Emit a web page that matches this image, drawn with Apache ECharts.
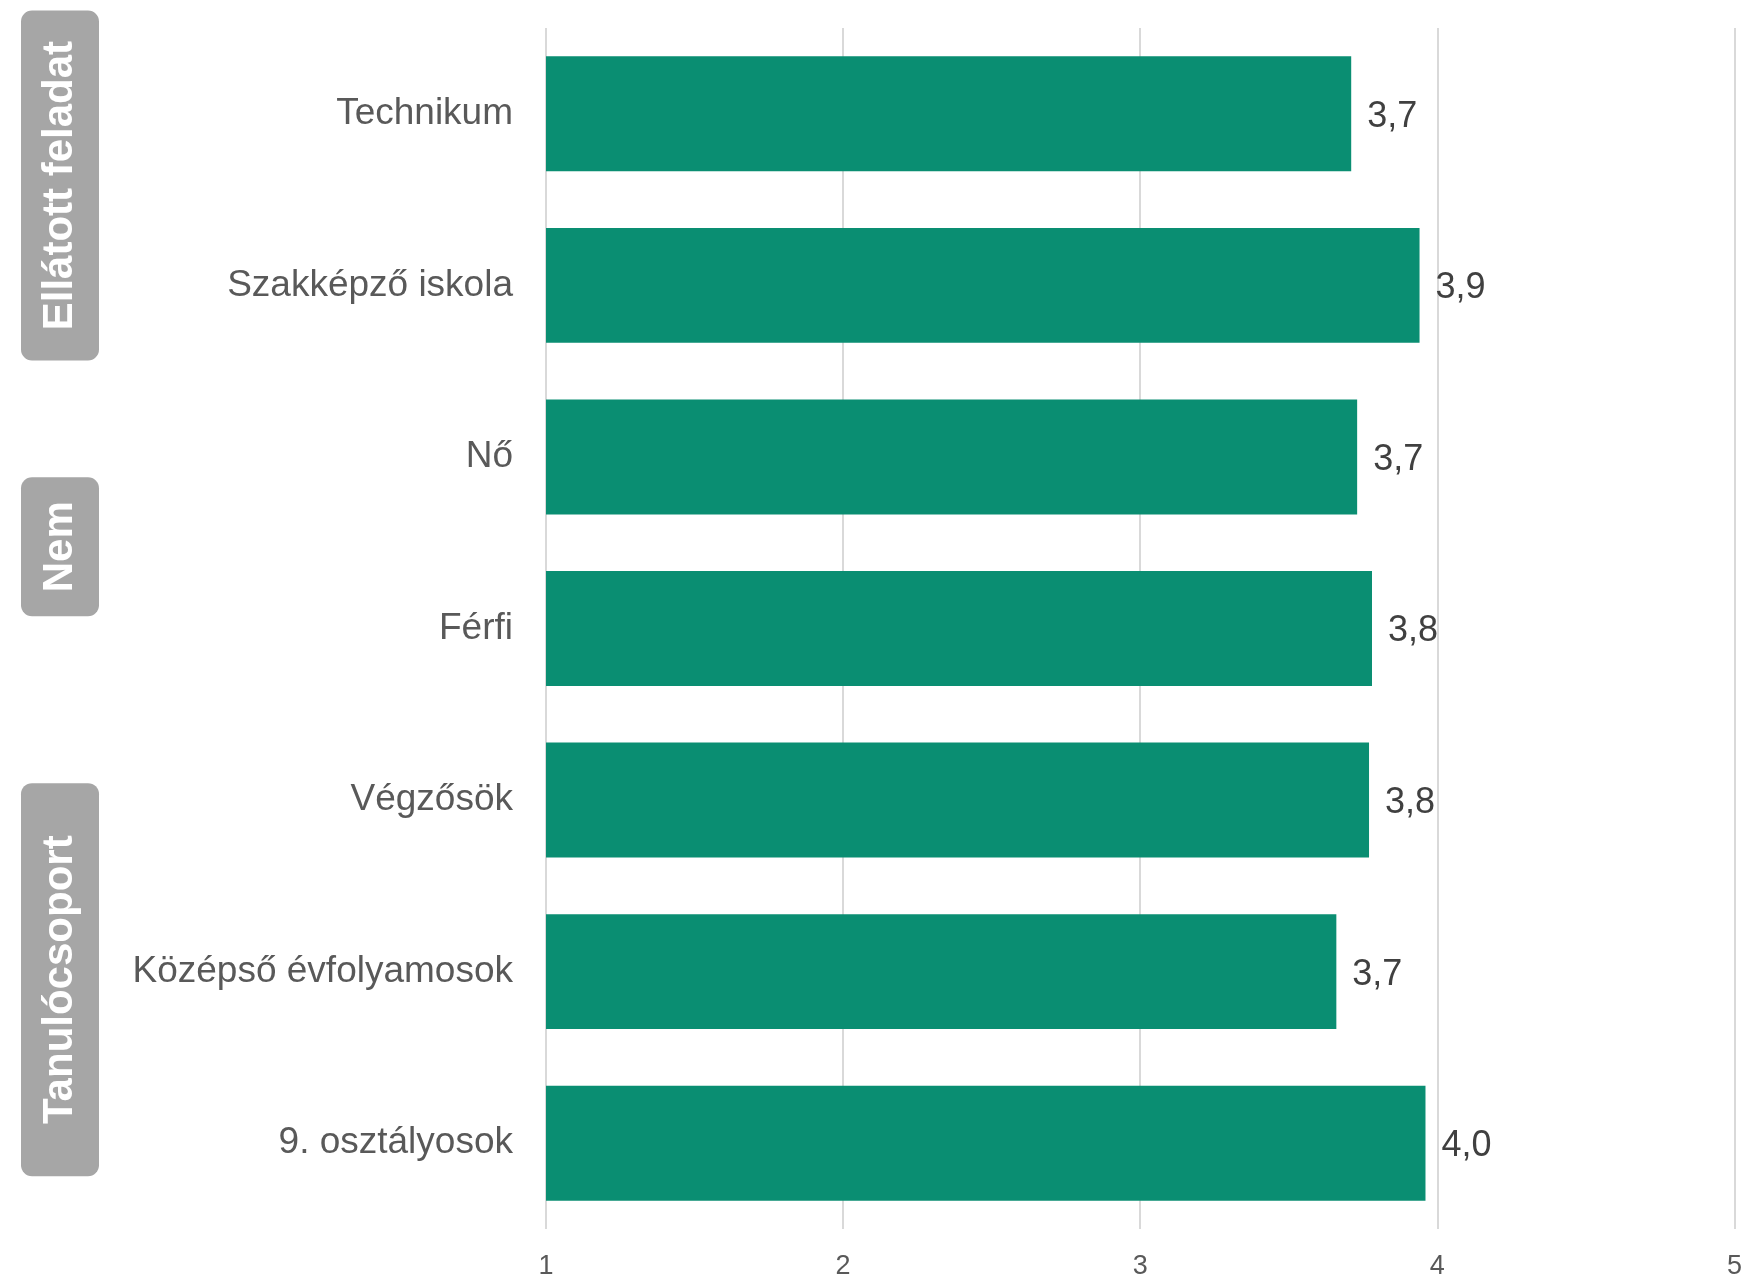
<!DOCTYPE html>
<html>
<head>
<meta charset="utf-8">
<script src="https://cdn.jsdelivr.net/npm/echarts@6/dist/echarts.min.js"></script>
<style>
html,body{margin:0;padding:0;background:#fff;}
#c{width:1745px;height:1280px;}
</style>
</head>
<body>
<div id="c"></div>
<script>
const categories = ['Technikum', 'Szakképző iskola', 'Nő', 'Férfi', 'Végzősök', 'Középső évfolyamosok', '9. osztályosok'];
const values = [3.71, 3.94, 3.73, 3.78, 3.77, 3.66, 3.96];
const groupNames = ['Ellátott feladat', 'Nem', 'Tanulócsoport'];
const groupMembers = [[0, 1], [2, 3], [4, 5, 6]];
const groupBoxLengths = [350, 139, 393];
const groupBoxShift = [-14, 4, 8];
const xMin = 1, xMax = 5, xStep = 1;

const FONT = '"Liberation Sans", Arial, sans-serif';
const chart = echarts.init(document.getElementById('c'), null, {renderer: 'canvas'});

chart.setOption({
  animation: false,
  backgroundColor: '#ffffff',
  grid: {left: 546, right: 9, top: 28, bottom: 49, containLabel: false},
  xAxis: {
    type: 'value', min: xMin, max: xMax, interval: xStep,
    axisLine: {show: false}, axisTick: {show: false},
    splitLine: {show: true, lineStyle: {color: '#d9d9d9', width: 2}},
    axisLabel: {fontSize: 27, color: '#595959', fontFamily: FONT, margin: 24}
  },
  yAxis: {
    type: 'category', data: categories, inverse: true,
    axisLine: {show: false}, axisTick: {show: false}, splitLine: {show: false},
    axisLabel: {fontSize: 37, color: '#595959', fontFamily: FONT, margin: 33}
  },
  series: [{
    type: 'bar',
    data: values,
    barCategoryGap: '33%',
    itemStyle: {color: '#0a8e72'},
    label: {
      show: true, position: 'right', distance: 16, offset: [0, 3],
      fontSize: 36, color: '#404040', fontFamily: FONT,
      formatter: p => p.value.toFixed(1).replace('.', ',')
    }
  }]
});

const graphics = [];
groupNames.forEach((name, gi) => {
  const ys = groupMembers[gi].map(i => chart.convertToPixel({yAxisIndex: 0}, categories[i]));
  const cy = (Math.min(...ys) + Math.max(...ys)) / 2 + groupBoxShift[gi];
  const len = groupBoxLengths[gi];
  graphics.push({
    type: 'rect',
    shape: {x: 21, y: cy - len / 2, width: 78, height: len, r: 11},
    style: {fill: '#a6a6a6'}
  });
  graphics.push({
    type: 'text',
    x: 60, y: cy,
    rotation: Math.PI / 2,
    style: {
      text: name, fill: '#ffffff', fontSize: 42, fontWeight: 'bold', fontFamily: FONT,
      align: 'center', verticalAlign: 'middle'
    }
  });
});
chart.setOption({graphic: graphics});
</script>
</body>
</html>
